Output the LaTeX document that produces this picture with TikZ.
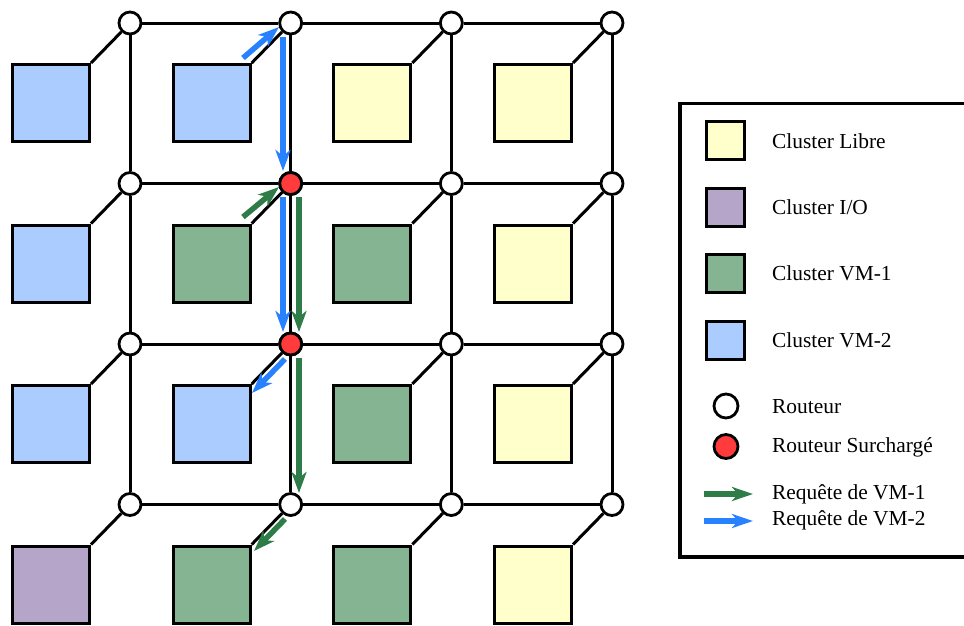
\documentclass[tikz,border=0pt]{standalone}
\usepackage{fontspec}
\setmainfont{Liberation Serif}
\usetikzlibrary{arrows.meta,calc}
\definecolor{cblue}{RGB}{170,204,255}
\definecolor{cyellow}{RGB}{255,255,204}
\definecolor{cpurple}{RGB}{180,165,201}
\definecolor{cgreen}{RGB}{132,180,146}
\definecolor{cred}{RGB}{255,59,59}
\definecolor{ablue}{RGB}{40,130,255}
\definecolor{agreen}{RGB}{46,125,72}
\tikzset{
  router/.style={circle,draw=black,line width=2.8pt,fill=white,minimum size=22pt,inner sep=0pt},
  hot/.style={router,fill=cred},
  cluster/.style={rectangle,draw=black,line width=3pt,minimum size=77pt,inner sep=0pt},
  lcluster/.style={rectangle,draw=black,line width=3pt,minimum size=38pt,inner sep=0pt},
  lrouter/.style={circle,draw=black,line width=2.8pt,minimum size=24pt,inner sep=0pt},
  link/.style={line width=3pt,draw=black},
  req/.style={line width=5.5pt,-{Stealth[length=21pt,width=15pt,inset=6pt]}},
  lreq/.style={line width=5.5pt,-{Stealth[length=21pt,width=14pt,inset=6pt]}},
  ltext/.style={anchor=base west,font=\fontsize{21.4pt}{24pt}\selectfont,inner sep=0pt}
}
\begin{document}
\begin{tikzpicture}[x=1pt,y=-1pt]
\useasboundingbox (0,0) rectangle (964,625);
% routers
\foreach \i in {0,...,3}{
  \foreach \j in {0,...,3}{
    \node[router] (r\i\j) at ({130+160.67*\i},{23+160.5*\j}) {};
  }
}
\node[hot] at (r11) {};
\node[hot] at (r12) {};
% clusters
\foreach \i/\j/\c in {0/0/cblue,1/0/cblue,2/0/cyellow,3/0/cyellow,
                      0/1/cblue,1/1/cgreen,2/1/cgreen,3/1/cyellow,
                      0/2/cblue,1/2/cblue,2/2/cgreen,3/2/cyellow,
                      0/3/cpurple,1/3/cgreen,2/3/cgreen,3/3/cyellow}{
  \node[cluster,fill=\c] (s\i\j) at ($(r\i\j)+(-79,80)$) {};
  \draw[link] (r\i\j) -- (s\i\j.north east);
}
% mesh links
\foreach \j in {0,...,3}{
  \draw[link] (r0\j) -- (r1\j);
  \draw[link] (r1\j) -- (r2\j);
  \draw[link] (r2\j) -- (r3\j);
}
\foreach \i in {0,...,3}{
  \draw[link] (r\i0) -- (r\i1);
  \draw[link] (r\i1) -- (r\i2);
  \draw[link] (r\i2) -- (r\i3);
}
% request arrows
\coordinate (b1s) at (243,58);  \coordinate (b1e) at (279,27);
\coordinate (b2s) at (283,37);  \coordinate (b2e) at (283,171);
\coordinate (b3s) at (283,197); \coordinate (b3e) at (283,332);
\coordinate (b4s) at (285,359); \coordinate (b4e) at (252,393);
\coordinate (g1s) at (243,217); \coordinate (g1e) at (279,187);
\coordinate (g2s) at (299,197); \coordinate (g2e) at (299,332);
\coordinate (g3s) at (299,358); \coordinate (g3e) at (299,493);
\coordinate (g4s) at (285,519); \coordinate (g4e) at (254,551);
\draw[req,ablue] (b1s) -- (b1e);
\draw[req,ablue] (b2s) -- (b2e);
\draw[req,ablue] (b3s) -- (b3e);
\draw[req,ablue] (b4s) -- (b4e);
\draw[req,agreen] (g1s) -- (g1e);
\draw[req,agreen] (g2s) -- (g2e);
\draw[req,agreen] (g3s) -- (g3e);
\draw[req,agreen] (g4s) -- (g4e);
% legend
\draw[line width=3.6pt] (680,103.5) rectangle (975,557);
\node[lcluster,fill=cyellow] (lfree) at (725.5,140.5) {};
\node[lcluster,fill=cpurple] (lio) at (725.5,207.5) {};
\node[lcluster,fill=cgreen] (lvm1) at (725.5,273) {};
\node[lcluster,fill=cblue] (lvm2) at (725.5,340.5) {};
\node[lrouter,fill=white] (lr) at (726,406) {};
\node[lrouter,fill=cred] (lhot) at (726,446.5) {};
\coordinate (lg1) at (704,494); \coordinate (lg2) at (753,494);
\coordinate (lb1) at (704,521); \coordinate (lb2) at (753,521);
\draw[lreq,agreen] (lg1) -- (lg2);
\draw[lreq,ablue] (lb1) -- (lb2);
\node[ltext] (t1) at (772,148) {Cluster Libre};
\node[ltext] (t2) at (772,214.5) {Cluster I/O};
\node[ltext] (t3) at (772,280.5) {Cluster VM-1};
\node[ltext] (t4) at (772,347.5) {Cluster VM-2};
\node[ltext] (t5) at (772,413.5) {Routeur};
\node[ltext] (t6) at (772,452.5) {Routeur Surchargé};
\node[ltext] (t7) at (772,499.5) {Requête de VM-1};
\node[ltext] (t8) at (772,525.5) {Requête de VM-2};
\end{tikzpicture}
\end{document}
